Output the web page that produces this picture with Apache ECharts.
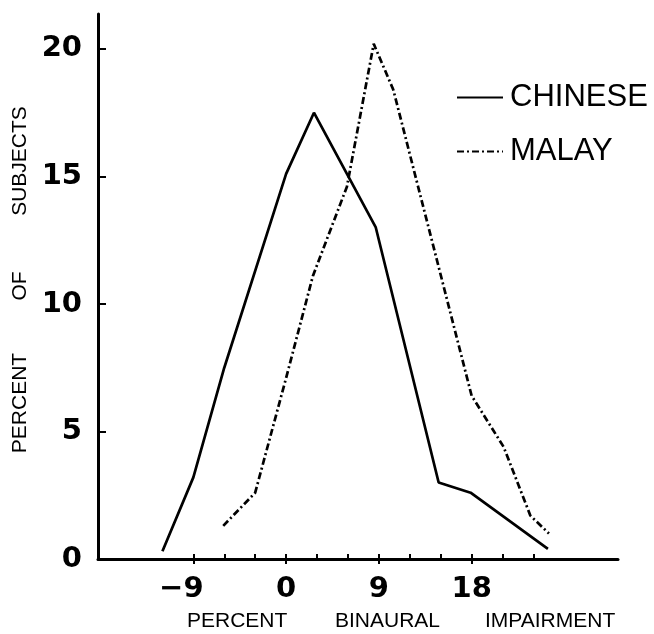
<!DOCTYPE html>
<html>
<head>
<meta charset="utf-8">
<script src="https://cdn.jsdelivr.net/npm/echarts@6/dist/echarts.min.js"></script>
<style>
  html, body { margin: 0; padding: 0; background: #fff; }
  #chart { width: 654px; height: 634px; }
</style>
</head>
<body>
<div id="chart"></div>
<script>
// ---- data ----
const chineseX = [-12, -9, -6, 0, 2.7, 8.7, 14.8, 17.9, 25.4];
const chineseY = [0.3, 3.2, 7.5, 15.1, 17.5, 13.0, 3.0, 2.6, 0.4];
const malayX = [-6.1, -3, 0, 2.6, 5.9, 8.5, 10.4, 18.0, 21.1, 23.7, 25.5];
const malayY = [1.3, 2.6, 7.1, 11.1, 14.6, 20.2, 18.4, 6.4, 4.4, 1.7, 1.0];
const xTickValues = [-9, -6, -3, 0, 3, 6, 9, 12, 15, 18, 21, 24];
const xLabelValues = [-9, 0, 9, 18];
const yTickValues = [0, 5, 10, 15, 20];
const seriesNames = ['CHINESE', 'MALAY'];
const xTitleWords = ['PERCENT', 'BINAURAL', 'IMPAIRMENT'];
const yTitleWords = ['PERCENT', 'OF', 'SUBJECTS'];

const pairs = (xs, ys) => xs.map((x, i) => [x, ys[i]]);
const FONT = 'Liberation Sans';
const NUMFONT = 'DejaVu Sans';

const chart = echarts.init(document.getElementById('chart'), null, { renderer: 'canvas' });
chart.setOption({
  backgroundColor: '#ffffff',
  animation: false,
  grid: { left: 98, right: 36, top: 14, bottom: 75, containLabel: false },
  legend: {
    orient: 'vertical',
    left: 451,
    top: 77,
    itemWidth: 46,
    itemHeight: 12,
    itemGap: 23,
    data: seriesNames,
    itemStyle: { opacity: 0 },
    textStyle: { fontFamily: FONT, fontSize: 31, color: '#000', padding: [0, 0, 0, 2] }
  },
  xAxis: [{
    type: 'value',
    min: -18.25,
    max: 32.2,
    splitLine: { show: false },
    axisLine: { show: true, onZero: false, lineStyle: { color: '#000', width: 3 } },
    axisTick: { show: true, inside: true, length: 5, lineStyle: { color: '#000', width: 2 }, customValues: xTickValues },
    axisLabel: {
      show: true, margin: 16, color: '#000', fontFamily: NUMFONT, fontWeight: 'bold', fontSize: 29,
      customValues: xLabelValues,
      formatter: v => (v < 0 ? '\u2212' + Math.abs(v) + '{sp|}' : String(v)),
      rich: { sp: { width: 24 } }
    }
  }, {
    type: 'value',
    min: -18.25,
    max: 32.2,
    position: 'bottom',
    splitLine: { show: false },
    axisLine: { show: false },
    axisTick: { show: true, inside: false, length: 5, lineStyle: { color: '#000', width: 2 }, customValues: xLabelValues },
    axisLabel: { show: false }
  }],
  yAxis: {
    type: 'value',
    min: 0,
    max: 21.37,
    splitLine: { show: false },
    axisLine: { show: true, onZero: false, lineStyle: { color: '#000', width: 3 } },
    axisTick: { show: true, inside: true, length: 8, lineStyle: { color: '#000', width: 2 }, customValues: yTickValues },
    axisLabel: {
      show: true, margin: 16, color: '#000', fontFamily: NUMFONT, fontWeight: 'bold', fontSize: 29,
      customValues: yTickValues
    }
  },
  graphic: [
    { type: 'text', left: 187, top: 611, style: { text: xTitleWords[0], fontFamily: FONT, fontSize: 21, fill: '#000' } },
    { type: 'text', left: 335, top: 611, style: { text: xTitleWords[1], fontFamily: FONT, fontSize: 21, fill: '#000' } },
    { type: 'text', left: 485, top: 611, style: { text: xTitleWords[2], fontFamily: FONT, fontSize: 21, fill: '#000' } },
    { type: 'text', x: 20, y: 403, rotation: Math.PI / 2, style: { text: yTitleWords[0], fontFamily: FONT, fontSize: 21, fill: '#000', align: 'center', verticalAlign: 'middle' } },
    { type: 'text', x: 20, y: 286, rotation: Math.PI / 2, style: { text: yTitleWords[1], fontFamily: FONT, fontSize: 21, fill: '#000', align: 'center', verticalAlign: 'middle' } },
    { type: 'text', x: 20, y: 161, rotation: Math.PI / 2, style: { text: yTitleWords[2], fontFamily: FONT, fontSize: 21, fill: '#000', align: 'center', verticalAlign: 'middle' } }
  ],
  series: [{
    name: seriesNames[0],
    type: 'line',
    data: pairs(chineseX, chineseY),
    symbol: 'none',
    lineStyle: { color: '#000', width: 2.7, type: 'solid' },
    itemStyle: { color: '#000' }
  }, {
    name: seriesNames[1],
    type: 'line',
    data: pairs(malayX, malayY),
    symbol: 'none',
    lineStyle: { color: '#000', width: 2.7, type: [7, 3, 2, 3] },
    itemStyle: { color: '#000' }
  }]
});
</script>
</body>
</html>
